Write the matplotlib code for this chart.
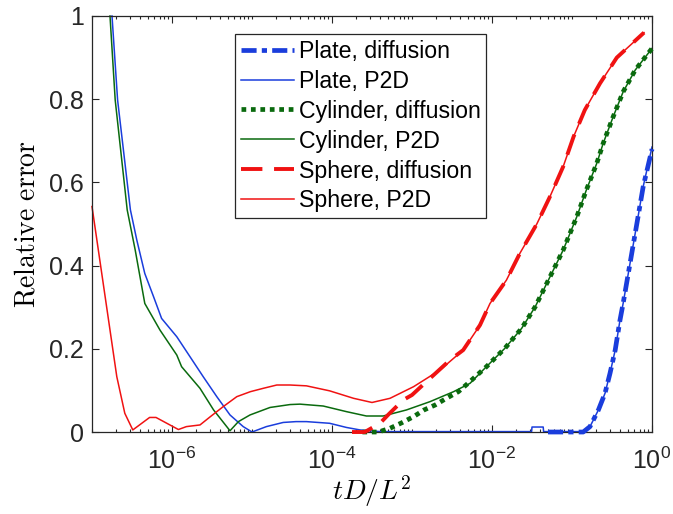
import numpy as np
import matplotlib
matplotlib.use("Agg")
import matplotlib.pyplot as plt

plt.rcParams['font.family'] = ['Liberation Sans', 'DejaVu Sans']
plt.rcParams['mathtext.fontset'] = 'custom'
plt.rcParams['mathtext.rm'] = 'Liberation Sans'
plt.rcParams['mathtext.it'] = 'Liberation Sans:italic'
plt.rcParams['mathtext.bf'] = 'Liberation Sans:bold'

# values, x given as log10(tD/L^2)
plate_p2d_logx = [-6.75, -6.68, -6.52, -6.44, -6.34, -6.23, -6.13, -5.94, -5.775, -5.61,
                  -5.44, -5.275, -5.11, -5.0, -4.82, -4.61, -4.45, -4.32, -4.03, -3.82,
                  -3.65, -3.4, -2.0, -1.505, -1.5, -1.36, -1.355, -0.86, -0.775, -0.67,
                  -0.5875, -0.525, -0.46, -0.40, -0.36, -0.275, -0.19, -0.11, 0.0]
plate_p2d_err = [1.0, 0.798, 0.534, 0.4615, 0.381, 0.325, 0.273, 0.229, 0.181, 0.133,
                 0.085, 0.041, 0.013, 0.0, 0.013, 0.023, 0.025, 0.025, 0.021, 0.011,
                 0.005, 0.001, 0.001, 0.001, 0.012, 0.012, 0.001, 0.001, 0.013, 0.053,
                 0.093, 0.141, 0.197, 0.269, 0.31, 0.405, 0.50, 0.59, 0.685]

plate_dif_logx = [-1.30, -0.86, -0.775, -0.67, -0.5875, -0.525, -0.46, -0.40, -0.36,
                  -0.275, -0.19, -0.11, 0.0]
plate_dif_err = [0.0, 0.0, 0.013, 0.053, 0.093, 0.141, 0.197, 0.269, 0.31,
                 0.405, 0.50, 0.59, 0.68]

cyl_p2d_logx = [-6.775, -6.71, -6.56, -6.46, -6.34, -6.15, -5.94, -5.88, -5.65, -5.48,
                -5.275, -5.17, -5.025, -4.775, -4.525, -4.4, -4.11, -3.82, -3.57, -3.36,
                -3.07, -2.775, -2.48, -2.275, -2.07, -1.84, -1.63, -1.46, -1.275, -1.11,
                -0.94, -0.82, -0.69, -0.61, -0.485, -0.36, -0.21, 0.0]
cyl_p2d_err = [1.0, 0.798, 0.534, 0.4375, 0.309, 0.245, 0.185, 0.157, 0.105, 0.053,
               0.003, 0.025, 0.041, 0.059, 0.066, 0.067, 0.0625, 0.049, 0.0385, 0.0385,
               0.053, 0.073, 0.097, 0.117, 0.157, 0.201, 0.249, 0.301, 0.373, 0.4375,
               0.5175, 0.582, 0.646, 0.694, 0.758, 0.818, 0.87, 0.922]

cyl_dif_logx = [-3.62, -3.42, -3.275, -3.13, -2.98, -2.85, -2.71, -2.57, -2.42, -2.30,
                -2.07, -1.84, -1.63, -1.46, -1.275, -1.11, -0.94, -0.82, -0.69, -0.61,
                -0.485, -0.36, -0.21, 0.0]
cyl_dif_err = [0.0, 0.0, 0.009, 0.022, 0.037, 0.053, 0.065, 0.081, 0.097, 0.117,
               0.157, 0.201, 0.249, 0.301, 0.373, 0.4375, 0.5175, 0.582, 0.646, 0.694,
               0.758, 0.818, 0.87, 0.922]

sph_p2d_logx = [-7.0, -6.69, -6.59, -6.49, -6.28, -6.2, -5.92, -5.82, -5.65, -5.52,
                -5.36, -5.19, -5.02, -4.86, -4.69, -4.525, -4.32, -4.03, -3.73, -3.50,
                -3.275, -2.98, -2.65, -2.36, -2.15, -2.025, -1.82, -1.65, -1.44, -1.275,
                -1.11, -0.98, -0.84, -0.65, -0.44, -0.1]
sph_p2d_err = [0.542, 0.133, 0.045, 0.005, 0.035, 0.035, 0.006, 0.013, 0.017, 0.037,
               0.061, 0.085, 0.097, 0.105, 0.113, 0.113, 0.111, 0.099, 0.081, 0.071,
               0.081, 0.109, 0.149, 0.197, 0.257, 0.309, 0.365, 0.43, 0.50, 0.566,
               0.638, 0.71, 0.774, 0.838, 0.90, 0.96]

sph_dif_logx = [-3.75, -3.59, -3.4, -3.30, -3.11, -3.0, -2.82, -2.525, -2.36, -2.15,
                -2.025, -1.82, -1.65, -1.44, -1.275, -1.11, -0.98, -0.84, -0.65, -0.44,
                -0.1]
sph_dif_err = [0.0, 0.0, 0.021, 0.041, 0.077, 0.089, 0.121, 0.173, 0.197, 0.257,
               0.309, 0.365, 0.43, 0.50, 0.566, 0.638, 0.71, 0.774, 0.838, 0.90,
               0.96]

blue = '#1a3ddc'
green = '#0a6a0e'
red = '#f01212'

fig = plt.figure(figsize=(6.73, 5.14), dpi=100)
ax = fig.add_axes([0.1367, 0.1595, 0.8321, 0.8094])

def tx(v):
    return np.power(10.0, np.array(v))

ax.plot(tx(plate_dif_logx), plate_dif_err, color=blue, lw=3.4, dashes=(3.2, 1.1, 1.1, 1.1),
        label='Plate, diffusion', clip_on=False, zorder=3)
ax.plot(tx(plate_p2d_logx), plate_p2d_err, color=blue, lw=1.1,
        label='Plate, P2D', clip_on=False, zorder=2)
ax.plot(tx(cyl_dif_logx), cyl_dif_err, color=green, lw=3.4, dashes=(1, 1),
        label='Cylinder, diffusion', clip_on=False, zorder=3)
ax.plot(tx(cyl_p2d_logx), cyl_p2d_err, color=green, lw=1.1,
        label='Cylinder, P2D', clip_on=False, zorder=2)
ax.plot(tx(sph_dif_logx), sph_dif_err, color=red, lw=2.8, dashes=(5.5, 3),
        label='Sphere, diffusion', clip_on=False, zorder=3)
ax.plot(tx(sph_p2d_logx), sph_p2d_err, color=red, lw=1.1,
        label='Sphere, P2D', clip_on=False, zorder=2)

ax.set_xscale('log')
ax.set_xlim(1e-7, 1)
ax.set_ylim(0, 1)

major = [1e-6, 1e-4, 1e-2, 1]
minor = [k * 10.0 ** n for n in range(-7, 0) for k in range(1, 10)]
minor = [m for m in minor if not any(abs(m - M) / M < 1e-9 for M in major)]
ax.set_xticks(major)
ax.set_xticklabels([r'$10^{-6}$', r'$10^{-4}$', r'$10^{-2}$', r'$10^{0}$'])
ax.set_xticks(minor, minor=True)
ax.set_xticklabels([], minor=True)
ax.set_yticks([0, 0.2, 0.4, 0.6, 0.8, 1])
ax.set_yticklabels(['0', '0.2', '0.4', '0.6', '0.8', '1'])

ax.tick_params(which='both', direction='in', top=True, right=True, colors='#262626',
               labelcolor='#262626', labelsize=18)
ax.tick_params(which='major', length=5, width=0.8)
ax.tick_params(which='minor', length=2.5, width=0.8)
ax.tick_params(axis='x', which='major', pad=11)
ax.tick_params(axis='y', pad=6)
for s in ax.spines.values():
    s.set_color('#262626')
    s.set_linewidth(0.9)

ax.set_xlabel(r'$tD/L^2$', fontsize=20, math_fontfamily='cm', labelpad=0)
ax.set_ylabel(r'$\mathrm{Relative\ error}$', fontsize=20, math_fontfamily='cm', labelpad=6)

leg = ax.legend(loc='upper left', bbox_to_anchor=(0.255, 0.957), fontsize=16.7,
                frameon=True, fancybox=False, framealpha=1, edgecolor='#262626',
                borderpad=0.25, labelspacing=0.3, handlelength=2.3, handletextpad=0.2,
                borderaxespad=0)
leg.get_frame().set_linewidth(0.9)

fig.savefig('out.png', dpi=100)
